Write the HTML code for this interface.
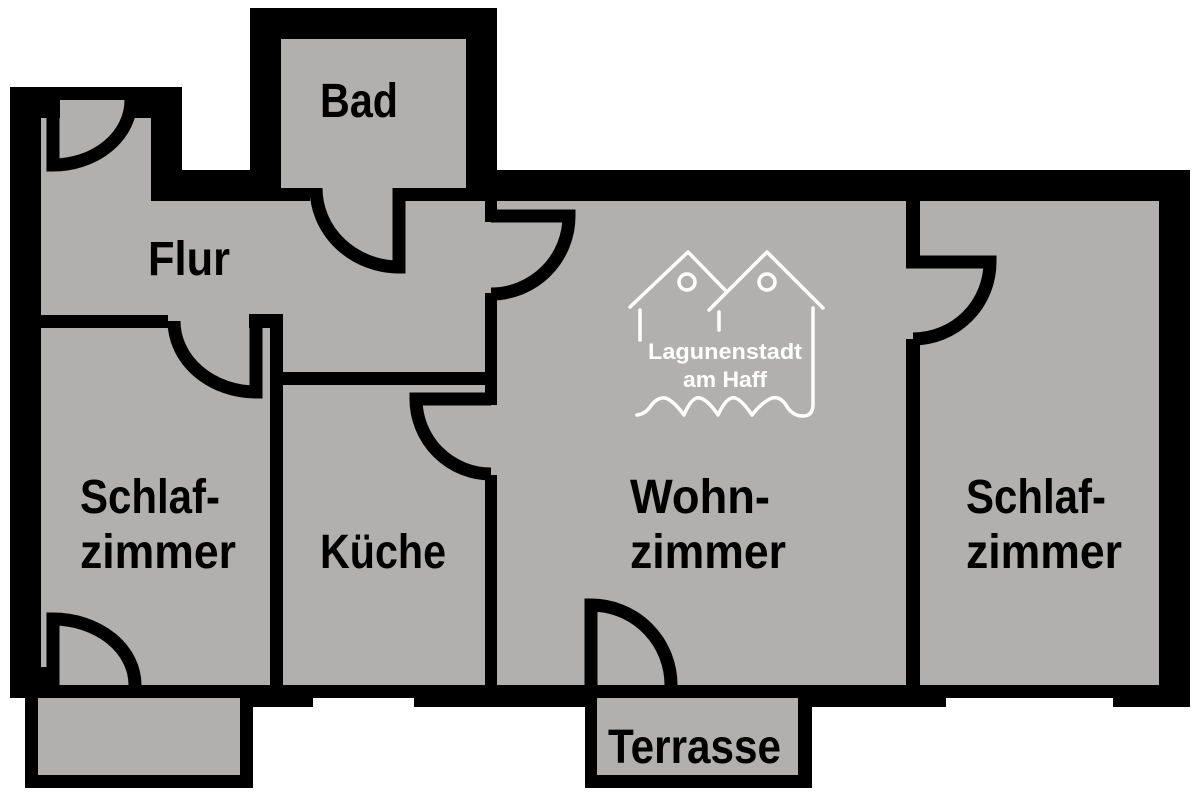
<!DOCTYPE html>
<html><head><meta charset="utf-8"><style>html,body{margin:0;padding:0;background:#fff}svg{display:block}</style></head>
<body>
<svg width="1200" height="800" viewBox="0 0 1200 800" xmlns="http://www.w3.org/2000/svg">
<g fill="#000">
  <rect x="10" y="87" width="172" height="611"/>
  <rect x="10" y="170" width="1180" height="528"/>
  <rect x="250" y="8" width="247" height="193"/>
  <rect x="241" y="677" width="72" height="30"/>
  <rect x="414" y="677" width="183" height="30"/>
  <rect x="798" y="677" width="148" height="30"/>
  <rect x="1113" y="677" width="77" height="30"/>
  <rect x="25" y="685" width="228" height="103"/>
  <rect x="585" y="685" width="227" height="103"/>
</g>
<g fill="#b1b0ae">
  <rect x="38" y="698" width="202" height="77"/>
  <rect x="597" y="698" width="201" height="77"/>
  <rect x="281" y="39" width="185" height="149"/>
  <rect x="310" y="187" width="83" height="15"/>
  <rect x="41" y="118" width="110" height="197"/>
  <rect x="60" y="100" width="68" height="20"/>
  <rect x="150" y="201" width="335" height="114"/>
  <rect x="283" y="314" width="202" height="58"/>
  <rect x="168" y="314" width="81" height="15"/>
  <rect x="41" y="328" width="229" height="357"/>
  <rect x="283" y="385" width="202" height="300"/>
  <rect x="497" y="201" width="409" height="484"/>
  <rect x="484" y="222" width="14" height="71"/>
  <rect x="484" y="405" width="14" height="70"/>
  <rect x="920" y="201" width="239" height="484"/>
  <rect x="905" y="268" width="16" height="71"/>
</g>
<g fill="none" stroke="#000" stroke-width="13">
  <path d="M53,100 L53,165 A 78 65 0 0 0 131,100"/>
  <path d="M399,188 L399,267 A 83 79 0 0 1 316,188"/>
  <path d="M491,216 L569,216 A 78 78 0 0 1 491,294"/>
  <path d="M491,399 L416,399 A 75 75 0 0 0 491,474"/>
  <path d="M256,314 L256,392 A 82 71 0 0 1 174,321"/>
  <path d="M53,685 L53,619 A 82 66 0 0 1 135,685"/>
  <path d="M591,685 L591,605 A 80 80 0 0 1 671,685"/>
  <path d="M906,262 L990,262 A 77 77 0 0 1 913,339"/>
</g>
<rect x="47" y="100" width="13" height="10" fill="#000"/>
<rect x="249" y="314" width="34" height="14" fill="#000"/>
<rect x="10" y="667" width="37" height="31" fill="#000"/>
<g fill="none" stroke="#fff" stroke-width="3.5" stroke-linecap="round" stroke-linejoin="round">
  <path d="M630,307 L688,252 L725,290"/>
  <path d="M640,310 L640,340"/>
  <circle cx="687" cy="282" r="8"/>
  <path d="M709,310 L767,252 L823,308"/>
  <path d="M719,312 L719,330"/>
  <circle cx="767" cy="282" r="8"/>
  <path d="M813,308 L813,404 Q813,416 803,416 Q792,416 786,405 Q780,396 772,398 Q762,402 752,415 Q742,400 735,398 Q727,396 718,415 Q708,400 700,398 Q692,396 684,415 Q673,400 665,398 Q657,397 650,407 Q645,414 637,415"/>
</g>
<g font-family="'Liberation Sans', sans-serif" font-weight="bold" fill="#fff" text-anchor="middle">
  <text x="725" y="359" font-size="22" textLength="154" lengthAdjust="spacingAndGlyphs">Lagunenstadt</text>
  <text x="725" y="387" font-size="22" textLength="84" lengthAdjust="spacingAndGlyphs">am Haff</text>
</g>
<g font-family="'Liberation Sans', sans-serif" font-weight="bold" fill="#000" font-size="48">
  <text x="320" y="117" textLength="78" lengthAdjust="spacingAndGlyphs">Bad</text>
  <text x="148" y="275" textLength="82" lengthAdjust="spacingAndGlyphs">Flur</text>
  <text x="80" y="513" textLength="140" lengthAdjust="spacingAndGlyphs">Schlaf-</text>
  <text x="80" y="568" textLength="156" lengthAdjust="spacingAndGlyphs">zimmer</text>
  <text x="320" y="568" textLength="126" lengthAdjust="spacingAndGlyphs">Küche</text>
  <text x="630" y="513" textLength="140" lengthAdjust="spacingAndGlyphs">Wohn-</text>
  <text x="630" y="568" textLength="156" lengthAdjust="spacingAndGlyphs">zimmer</text>
  <text x="966" y="513" textLength="140" lengthAdjust="spacingAndGlyphs">Schlaf-</text>
  <text x="966" y="568" textLength="156" lengthAdjust="spacingAndGlyphs">zimmer</text>
  <text x="608" y="763" textLength="173" lengthAdjust="spacingAndGlyphs">Terrasse</text>
</g>
</svg>
</body></html>
